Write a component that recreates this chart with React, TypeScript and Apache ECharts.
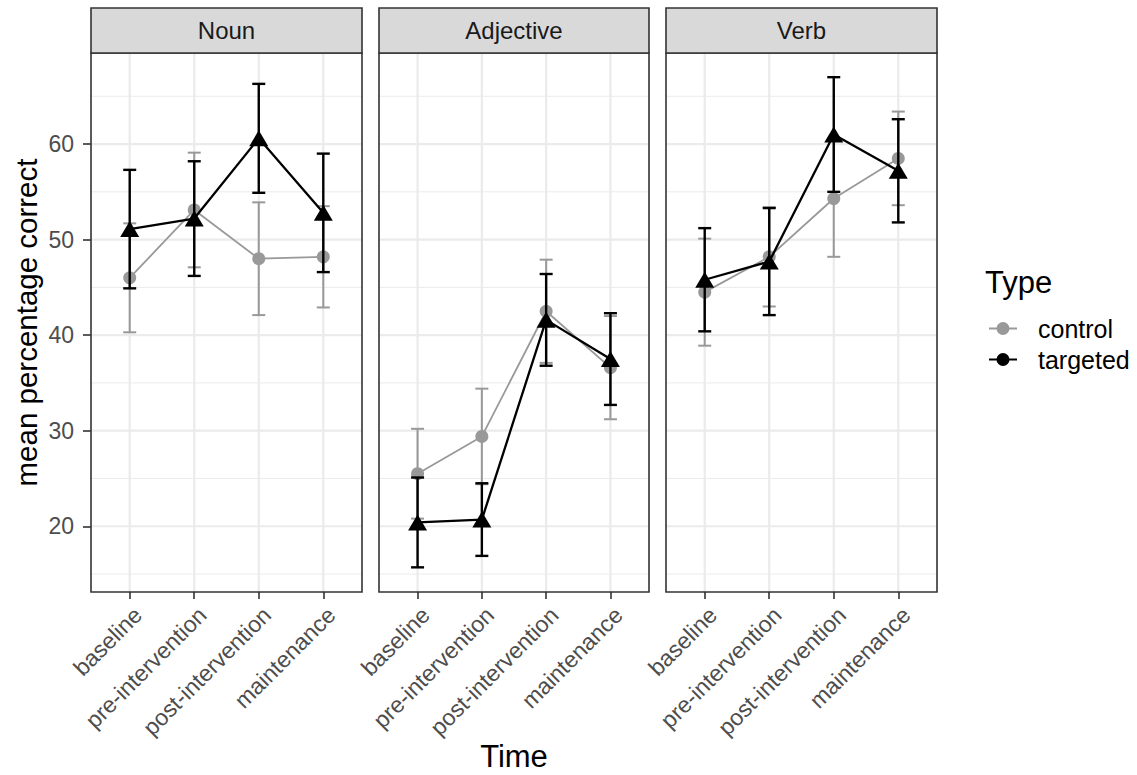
import React, { useEffect, useRef } from "react";
import * as echarts from "echarts";

// ---- data ----
const categories = ["baseline", "pre-intervention", "post-intervention", "maintenance"];
const panelNames = ["Noun", "Adjective", "Verb"];
const typeNames = ["control", "targeted"];

const nounControlMean = [46.0, 53.1, 48.0, 48.2];
const nounControlErr = [5.7, 6.0, 5.9, 5.3];
const nounTargetedMean = [51.1, 52.2, 60.6, 52.8];
const nounTargetedErr = [6.2, 6.0, 5.7, 6.2];

const adjControlMean = [25.5, 29.4, 42.5, 36.6];
const adjControlErr = [4.7, 5.0, 5.4, 5.4];
const adjTargetedMean = [20.4, 20.7, 41.6, 37.5];
const adjTargetedErr = [4.7, 3.8, 4.8, 4.8];

const verbControlMean = [44.5, 48.2, 54.3, 58.5];
const verbControlErr = [5.6, 5.2, 6.1, 4.9];
const verbTargetedMean = [45.8, 47.7, 61.0, 57.2];
const verbTargetedErr = [5.4, 5.6, 6.0, 5.4];

const yMajor = [20, 30, 40, 50, 60];
const yMinor = [15, 25, 35, 45, 55, 65];
const yMin = 13.12;
const yMax = 69.53;

// ---- layout ----
const FONT = "Liberation Sans, Arial, Helvetica, sans-serif";
const gridTop = 53;
const gridHeight = 539;
const panelLeft = [91, 379, 666];
const panelWidth = [271, 270, 271];
const stripTop = 8;
const stripH = 45;

const COLORS = ["#999999", "#000000"];

const panelData = [
  [
    [nounControlMean, nounControlErr],
    [nounTargetedMean, nounTargetedErr],
  ],
  [
    [adjControlMean, adjControlErr],
    [adjTargetedMean, adjTargetedErr],
  ],
  [
    [verbControlMean, verbControlErr],
    [verbTargetedMean, verbTargetedErr],
  ],
];

const legendIcon =
  "path://M0,5.5 L8,5.5 L8,7.5 L0,7.5 Z M20,5.5 L28,5.5 L28,7.5 L20,7.5 Z M7.5,6.5 A6.5,6.5 0 1 1 20.5,6.5 A6.5,6.5 0 1 1 7.5,6.5 Z";

function buildOption() {
  const grids: any[] = [];
  const xAxes: any[] = [];
  const yAxes: any[] = [];
  const series: any[] = [];
  const graphics: any[] = [];

  panelNames.forEach((pName, i) => {
    grids.push({
      left: panelLeft[i],
      top: gridTop,
      width: panelWidth[i],
      height: gridHeight,
      containLabel: false,
      outerBoundsMode: "none",
    });
    xAxes.push({
      type: "value",
      gridIndex: i,
      min: 0.4,
      max: 4.6,
      axisLine: { show: false, onZero: false },
      splitLine: { show: false },
      axisTick: {
        show: true,
        customValues: [1, 2, 3, 4],
        length: 7,
        lineStyle: { color: "#333333", width: 1.6 },
      },
      axisLabel: {
        show: true,
        customValues: [1, 2, 3, 4],
        formatter: (v: number) => categories[Math.round(v) - 1] ?? "",
        rotate: 45,
        align: "right",
        verticalAlign: "top",
        margin: 11,
        fontSize: 23,
        color: "#4D4D4D",
        fontFamily: FONT,
      },
    });
    yAxes.push({
      type: "value",
      gridIndex: i,
      min: yMin,
      max: yMax,
      axisLine: { show: false, onZero: false },
      splitLine: { show: false },
      axisTick: {
        show: i === 0,
        customValues: yMajor,
        length: 8,
        lineStyle: { color: "#333333", width: 1.6 },
      },
      axisLabel: {
        show: i === 0,
        customValues: yMajor,
        margin: 17,
        fontSize: 23,
        color: "#4D4D4D",
        fontFamily: FONT,
      },
      name: i === 0 ? "mean percentage correct" : "",
      nameLocation: "middle",
      nameGap: 50,
      nameRotate: 90,
      nameTextStyle: { fontSize: 29.5, color: "#000000", fontFamily: FONT },
    });

    // gridlines
    series.push({
      type: "custom",
      name: "grid" + i,
      xAxisIndex: i,
      yAxisIndex: i,
      z: 0,
      silent: true,
      data: [[2.5, 40]],
      renderItem: (params: any, api: any) => {
        const cs = params.coordSys;
        const children: any[] = [];
        yMinor.forEach((v) => {
          const p = api.coord([1, v]);
          children.push({
            type: "line",
            shape: { x1: cs.x, y1: p[1], x2: cs.x + cs.width, y2: p[1] },
            style: { stroke: "#EBEBEB", lineWidth: 1 },
          });
        });
        yMajor.forEach((v) => {
          const p = api.coord([1, v]);
          children.push({
            type: "line",
            shape: { x1: cs.x, y1: p[1], x2: cs.x + cs.width, y2: p[1] },
            style: { stroke: "#EBEBEB", lineWidth: 2.2 },
          });
        });
        [1, 2, 3, 4].forEach((v) => {
          const p = api.coord([v, 40]);
          children.push({
            type: "line",
            shape: { x1: p[0], y1: cs.y, x2: p[0], y2: cs.y + cs.height },
            style: { stroke: "#EBEBEB", lineWidth: 2.2 },
          });
        });
        return { type: "group", children };
      },
    });

    panelData[i].forEach(([means, errs], t) => {
      const color = COLORS[t];
      const lw = t === 0 ? 2 : 2.4;
      series.push({
        type: "custom",
        name: typeNames[t] + "-err-" + i,
        xAxisIndex: i,
        yAxisIndex: i,
        z: 2 + t * 2,
        silent: true,
        data: means.map((m, k) => [k + 1, m - errs[k], m + errs[k]]),
        encode: { x: 0, y: [1, 2] },
        renderItem: (params: any, api: any) => {
          const x = api.value(0);
          const top = api.coord([x, api.value(2)]);
          const bot = api.coord([x, api.value(1)]);
          const w = 6.5;
          const style = { stroke: color, lineWidth: lw };
          return {
            type: "group",
            children: [
              { type: "line", shape: { x1: top[0], y1: top[1], x2: bot[0], y2: bot[1] }, style },
              { type: "line", shape: { x1: top[0] - w, y1: top[1], x2: top[0] + w, y2: top[1] }, style },
              { type: "line", shape: { x1: bot[0] - w, y1: bot[1], x2: bot[0] + w, y2: bot[1] }, style },
            ],
          };
        },
      });
      series.push({
        type: "line",
        name: typeNames[t],
        xAxisIndex: i,
        yAxisIndex: i,
        z: 3 + t * 2,
        silent: true,
        data: means.map((m, k) => [k + 1, m]),
        symbol: t === 0 ? "circle" : "triangle",
        symbolSize: t === 0 ? 13 : [19, 16],
        showSymbol: true,
        itemStyle: { color, opacity: 1 },
        lineStyle: { color, width: t === 0 ? 1.8 : 2.3 },
      });
    });

    // panel border
    graphics.push({
      type: "rect",
      shape: { x: panelLeft[i], y: gridTop, width: panelWidth[i], height: gridHeight },
      style: { fill: "none", stroke: "#333333", lineWidth: 1.6 },
      z: 100,
      silent: true,
    });
    // strip
    graphics.push({
      type: "rect",
      shape: { x: panelLeft[i], y: stripTop, width: panelWidth[i], height: stripH },
      style: { fill: "#D9D9D9", stroke: "#333333", lineWidth: 1.6 },
      z: 100,
      silent: true,
    });
    graphics.push({
      type: "text",
      x: panelLeft[i] + panelWidth[i] / 2,
      y: stripTop + stripH / 2,
      style: {
        text: pName,
        fill: "#1A1A1A",
        fontSize: 24,
        fontFamily: FONT,
        align: "center",
        verticalAlign: "middle",
      },
      z: 101,
      silent: true,
    });
  });

  // x-axis title
  graphics.push({
    type: "text",
    x: (panelLeft[0] + panelLeft[2] + panelWidth[2]) / 2,
    y: 756,
    style: {
      text: "Time",
      fill: "#000000",
      fontSize: 31,
      fontFamily: FONT,
      align: "center",
      verticalAlign: "middle",
    },
    silent: true,
  });

  return {
    animation: false,
    backgroundColor: "#FFFFFF",
    textStyle: { fontFamily: FONT },
    title: {
      text: "Type",
      left: 985,
      top: 267,
      padding: 0,
      textStyle: { fontSize: 31, fontWeight: "normal", color: "#000000", fontFamily: FONT },
    },
    legend: {
      orient: "vertical",
      left: 989,
      top: 316,
      padding: 0,
      itemGap: 6,
      itemWidth: 28,
      itemHeight: 13,
      selectedMode: false,
      data: [
        { name: "control", icon: legendIcon, itemStyle: { color: COLORS[0] } },
        { name: "targeted", icon: legendIcon, itemStyle: { color: COLORS[1] } },
      ],
      textStyle: {
        fontSize: 25,
        color: "#000000",
        fontFamily: FONT,
        padding: [0, 0, 0, 16],
        lineHeight: 24,
      },
    },
    grid: grids,
    xAxis: xAxes,
    yAxis: yAxes,
    series,
    graphic: graphics,
  };
}

export default function App() {
  const ref = useRef<HTMLDivElement>(null);
  useEffect(() => {
    if (!ref.current) return;
    const chart = echarts.init(ref.current, undefined, { renderer: "svg" });
    chart.setOption(buildOption() as any);
    return () => chart.dispose();
  }, []);
  return (
    <div
      ref={ref}
      style={{ position: "fixed", left: 0, top: 0, width: 1137, height: 775, background: "#fff" }}
    />
  );
}
